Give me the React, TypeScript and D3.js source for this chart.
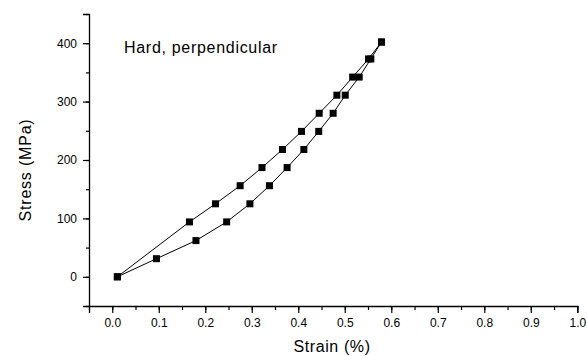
import * as d3 from "d3";
import { useEffect, useRef } from "react";

// loading branch (upper curve)
const loadStrain = [0.011, 0.166, 0.222, 0.275, 0.322, 0.366, 0.407, 0.445, 0.483, 0.517, 0.551, 0.579];
const loadStress = [0, 94, 125, 156, 187, 218, 249, 280, 311, 342, 373, 402];
// unloading branch (lower curve)
const unloadStrain = [0.579, 0.556, 0.531, 0.501, 0.475, 0.444, 0.412, 0.376, 0.338, 0.296, 0.246, 0.18, 0.095, 0.011];
const unloadStress = [402, 373, 342, 311, 280, 249, 218, 187, 156, 125, 94, 62, 31, 0];

const xTicks = [0, 0.1, 0.2, 0.3, 0.4, 0.5, 0.6, 0.7, 0.8, 0.9, 1.0];
const yTicks = [0, 100, 200, 300, 400];

const W = 587;
const H = 356;
const FONT = "'Liberation Sans', Arial, sans-serif";

const App = () => {
  const ref = useRef<SVGSVGElement>(null);

  useEffect(() => {
    const svg = d3.select(ref.current);
    svg.selectAll("*").remove();

    const x = d3.scaleLinear().domain([-0.05, 1.0]).range([89, 577.3]);
    const y = d3.scaleLinear().domain([-50, 450]).range([306, 14]);

    // minor ticks
    const xMinor = d3.range(-0.05, 1.0001, 0.05).map((v) => +v.toFixed(2));
    svg.append("g")
      .attr("transform", "translate(0,306)")
      .call(d3.axisBottom(x).tickValues(xMinor).tickSize(4).tickFormat(() => ""))
      .call((g) => g.select(".domain").remove());
    const yMinor = d3.range(-50, 451, 50);
    svg.append("g")
      .attr("transform", "translate(89,0)")
      .call(d3.axisLeft(y).tickValues(yMinor).tickSize(3).tickFormat(() => ""))
      .call((g) => g.select(".domain").remove());

    // major axes
    const xa = svg.append("g")
      .attr("transform", "translate(0,306)")
      .call(d3.axisBottom(x).tickValues(xTicks).tickSizeOuter(0).tickSize(7).tickPadding(5).tickFormat(d3.format(".1f")));
    const ya = svg.append("g")
      .attr("transform", "translate(89,0)")
      .call(d3.axisLeft(y).tickValues(yTicks).tickSizeOuter(0).tickSize(6).tickPadding(6));
    [xa, ya].forEach((g) => {
      g.attr("font-family", FONT).attr("font-size", 12);
      g.selectAll("text").attr("fill", "#000");
      g.selectAll("line,path").attr("stroke", "#000").attr("stroke-width", 1.3);
    });
    svg.selectAll("g line").attr("stroke", "#000").attr("stroke-width", 1.2);

    const load = loadStrain.map((s, i) => [s, loadStress[i]] as [number, number]);
    const unload = unloadStrain.map((s, i) => [s, unloadStress[i]] as [number, number]);
    const line = d3.line<[number, number]>().x((d) => x(d[0])).y((d) => y(d[1]));

    [load, unload].forEach((data) => {
      svg.append("path").datum(data)
        .attr("d", line).attr("fill", "none").attr("stroke", "#000").attr("stroke-width", 1);
      svg.append("g").selectAll("rect").data(data).join("rect")
        .attr("x", (d) => x(d[0]) - 3.5)
        .attr("y", (d) => y(d[1]) - 3.5)
        .attr("width", 7).attr("height", 7).attr("fill", "#000");
    });

    svg.append("text")
      .attr("x", 124).attr("y", 53)
      .attr("font-family", FONT).attr("font-size", 16)
      .attr("letter-spacing", 0.7)
      .text("Hard, perpendicular");

    svg.append("text")
      .attr("x", 332).attr("y", 352)
      .attr("text-anchor", "middle")
      .attr("font-family", FONT).attr("font-size", 16)
      .attr("letter-spacing", 0.6)
      .text("Strain (%)");

    svg.append("text")
      .attr("transform", "translate(31,170) rotate(-90)")
      .attr("text-anchor", "middle")
      .attr("font-family", FONT).attr("font-size", 16)
      .attr("letter-spacing", 0.8)
      .text("Stress (MPa)");
  }, []);

  return (
    <svg ref={ref} width={W} height={H}
      style={{ position: "absolute", left: 0, top: 0, background: "#fff" }} />
  );
};

export default App;
